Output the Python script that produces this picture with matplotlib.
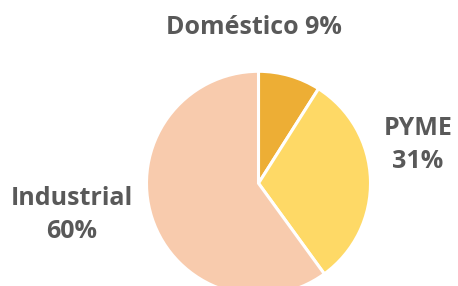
import matplotlib.pyplot as plt

# Data
labels = ['Doméstico', 'PYME', 'Industrial']
values = [9, 31, 60]
colors = ['#EDAE35', '#FED966', '#F8CBAD']

plt.rcParams['font.family'] = ['Open Sans', 'DejaVu Sans']

fig = plt.figure(figsize=(4.58, 2.86), dpi=100)
ax = fig.add_axes([0, 0, 1, 1])
ax.set_xlim(0, 458)
ax.set_ylim(0, 286)
ax.set_aspect('equal')
ax.axis('off')

ax.pie(values, colors=colors, startangle=90, counterclock=False,
       center=(258.5, 286 - 183.3), radius=112,
       wedgeprops=dict(edgecolor='white', linewidth=2.2))
ax.set_xlim(0, 458)
ax.set_ylim(0, 286)

txt = dict(color='#595959', fontweight='bold', fontsize=18,
           ha='center', va='center', linespacing=1.45)
ax.text(254, 286 - 27, f'{labels[0]} {values[0]}%', **txt)
ax.text(418, 286 - 145, f'{labels[1]}\n{values[1]}%', **txt)
ax.text(72, 286 - 215, f'{labels[2]}\n{values[2]}%', **txt)

fig.savefig('out.png', dpi=100)
